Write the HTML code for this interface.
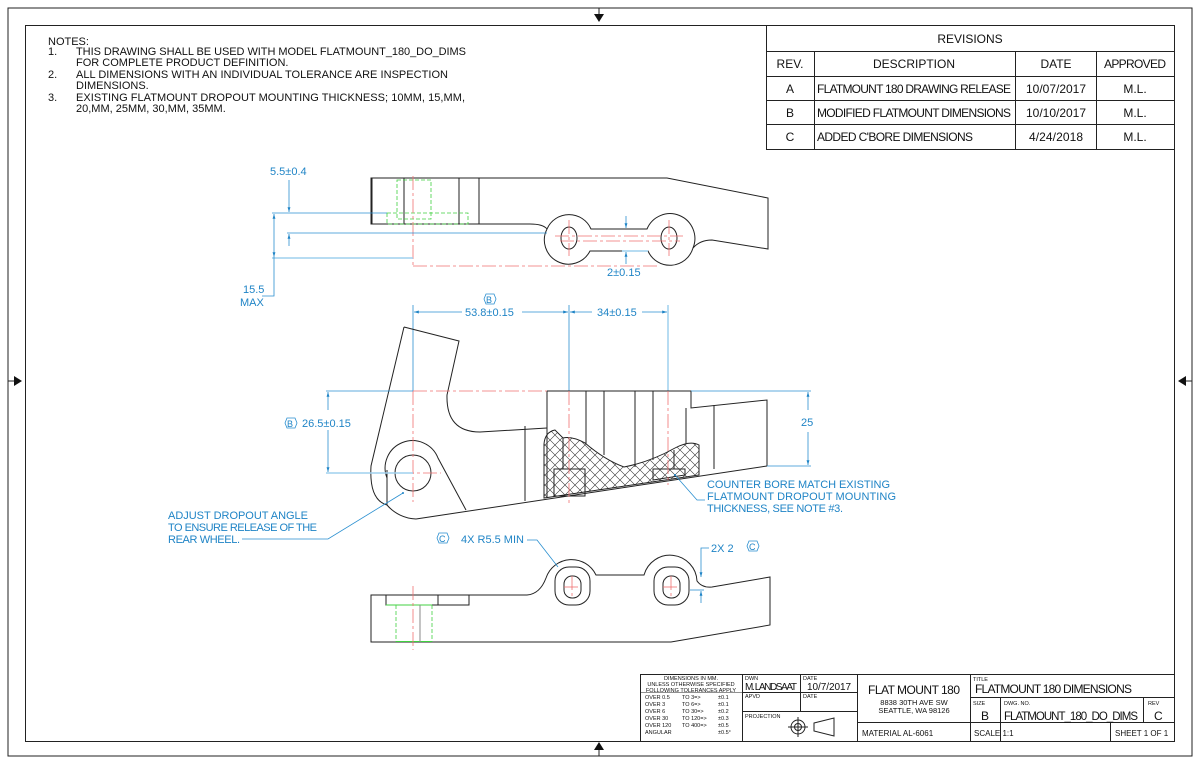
<!DOCTYPE html>
<html><head><meta charset="utf-8"><style>
html,body{margin:0;padding:0;background:#fff}
svg{display:block}
text{font-family:"Liberation Sans",sans-serif}
.k{stroke:#222;fill:none;stroke-width:1}
.b{stroke:#2a8fd0;fill:none;stroke-width:0.8}
.lb{stroke:#9fd0ee;fill:none;stroke-width:1.5}
.r{stroke:#f07070;fill:none;stroke-width:0.8;stroke-dasharray:14 3 3 3}
.g{stroke:#40d040;fill:none;stroke-width:0.8;stroke-dasharray:4 2}
.bt{fill:#1f84c6;font-size:11px}
.t{fill:#111;font-size:11px}
.s{fill:#111;font-size:5.5px}
</style></head><body>
<svg width="1200" height="764" viewBox="0 0 1200 764" xmlns="http://www.w3.org/2000/svg">
<defs>
<marker id="a" viewBox="0 0 10 10" refX="10" refY="5" markerWidth="8" markerHeight="6" orient="auto-start-reverse"><path d="M0,2 L10,5 L0,8z" fill="#1f84c6"/></marker>
<pattern id="h" width="10" height="10" patternUnits="userSpaceOnUse"><path d="M0,0 L10,10 M10,0 L0,10" stroke="#333" stroke-width="0.6"/></pattern>
</defs>
<rect x="8" y="8" width="1184" height="748" class="k" stroke-width="0.8"/>
<rect x="25.5" y="25.5" width="1149" height="716" class="k"/>
<path d="M594,14 L604,14 L599,22z M594,750 L604,750 L599,742z M14,376 L14,386 L22,381z M1186,376 L1186,386 L1178,381z" fill="#111"/>
<line x1="599" y1="8" x2="599" y2="14" class="k"/><line x1="599" y1="750" x2="599" y2="756" class="k"/>
<line x1="8" y1="381" x2="14" y2="381" class="k"/><line x1="1186" y1="381" x2="1192" y2="381" class="k"/>

<!-- notes -->
<g class="t">
<text x="48" y="45">NOTES:</text>
<text x="48" y="55">1.</text><text x="76" y="55" textLength="390">THIS DRAWING SHALL BE USED WITH MODEL FLATMOUNT_180_DO_DIMS</text>
<text x="76" y="66">FOR COMPLETE PRODUCT DEFINITION.</text>
<text x="48" y="78">2.</text><text x="76" y="78" textLength="372">ALL DIMENSIONS WITH AN INDIVIDUAL TOLERANCE ARE INSPECTION</text>
<text x="76" y="89">DIMENSIONS.</text>
<text x="48" y="101">3.</text><text x="76" y="101" textLength="389">EXISTING FLATMOUNT DROPOUT MOUNTING THICKNESS; 10MM, 15,MM,</text>
<text x="76" y="112">20,MM, 25MM, 30,MM, 35MM.</text>
</g>

<!-- revisions -->
<g class="k">
<rect x="766.5" y="25.5" width="408" height="124"/>
<line x1="766" y1="51.5" x2="1175" y2="51.5"/><line x1="766" y1="76.5" x2="1175" y2="76.5"/>
<line x1="766" y1="100.5" x2="1175" y2="100.5"/><line x1="766" y1="124.5" x2="1175" y2="124.5"/>
<line x1="814.5" y1="51" x2="814.5" y2="150"/><line x1="1015.5" y1="51" x2="1015.5" y2="150"/><line x1="1096.5" y1="51" x2="1096.5" y2="150"/>
</g>
<g class="t" text-anchor="middle" style="font-size:12px">
<text x="970" y="43">REVISIONS</text>
<text x="790" y="68">REV.</text><text x="914" y="68">DESCRIPTION</text><text x="1056" y="68">DATE</text><text x="1135" y="68" textLength="62">APPROVED</text>
<text x="790" y="93">A</text><text x="1056" y="93" textLength="60">10/07/2017</text><text x="1135" y="93">M.L.</text>
<text x="790" y="117">B</text><text x="1056" y="117" textLength="60">10/10/2017</text><text x="1135" y="117">M.L.</text>
<text x="790" y="141">C</text><text x="1056" y="141" textLength="54">4/24/2018</text><text x="1135" y="141">M.L.</text>
</g>
<g class="t" style="font-size:12px">
<text x="817" y="93" textLength="194">FLATMOUNT 180 DRAWING RELEASE</text>
<text x="817" y="117" textLength="194">MODIFIED FLATMOUNT DIMENSIONS</text>
<text x="817" y="141" textLength="156">ADDED C'BORE DIMENSIONS</text>
</g>

<!-- TOP VIEW -->
<path class="k" d="M371,178 L667,178 L768,198 L768,249 L712,240 Q700,240 693,248 A24,24 0 0 1 648,251 L590,251 A24,24 0 0 1 547,229 Q543,224 530,224 L371,224 Z"/>
<path class="k" d="M547,229 A24,24 0 0 1 591,229 L647,229 A24,24 0 0 1 693,248"/>
<line class="k" x1="404" y1="178" x2="404" y2="224"/><line class="k" x1="459" y1="178" x2="459" y2="224"/><line class="k" x1="479" y1="178" x2="479" y2="224"/>
<line class="k" x1="372" y1="178" x2="372" y2="224" stroke-width="2"/>
<rect class="g" x="397" y="180" width="34" height="39"/>
<rect class="g" x="387" y="213" width="81" height="11"/>
<ellipse class="k" cx="569" cy="238" rx="8" ry="11"/><ellipse class="k" cx="669" cy="238" rx="8" ry="11"/>
<line class="r" x1="413" y1="176" x2="413" y2="266"/>
<line class="r" x1="413" y1="266" x2="660" y2="266"/>
<line class="r" x1="555" y1="236" x2="683" y2="236"/><line class="r" x1="560" y1="241" x2="680" y2="241"/>
<line class="r" x1="569" y1="220" x2="569" y2="256"/><line class="r" x1="669" y1="220" x2="669" y2="256"/>
<line class="b" x1="272" y1="213" x2="387" y2="213"/>
<line class="b" x1="287" y1="233" x2="547" y2="233"/>
<line class="lb" x1="272" y1="258" x2="413" y2="258"/>
<line class="b" x1="289" y1="180" x2="289" y2="212" marker-end="url(#a)"/>
<line class="b" x1="289" y1="246" x2="289" y2="234" marker-end="url(#a)"/>
<line class="b" x1="274" y1="214" x2="274" y2="257" marker-start="url(#a)" marker-end="url(#a)"/>
<polyline class="b" points="274,257 274,296 262,296"/>
<text class="bt" x="270" y="175">5.5±0.4</text>
<text class="bt" x="243" y="293">15.5</text><text class="bt" x="240" y="306">MAX</text>
<line class="b" x1="626" y1="216" x2="626" y2="228" marker-end="url(#a)"/>
<line class="b" x1="626" y1="264" x2="626" y2="252" marker-end="url(#a)"/>
<line class="lb" x1="622" y1="251" x2="648" y2="251"/>
<text class="bt" x="607" y="276">2±0.15</text>

<!-- MIDDLE VIEW -->
<line class="b" x1="413" y1="305" x2="413" y2="391"/>
<line class="b" x1="569" y1="305" x2="569" y2="391"/>
<line class="lb" x1="668" y1="305" x2="668" y2="391"/>
<line class="b" x1="414" y1="312" x2="462" y2="312" marker-start="url(#a)"/>
<line class="b" x1="522" y1="312" x2="568" y2="312" marker-end="url(#a)"/>
<line class="b" x1="570" y1="312" x2="592" y2="312" marker-start="url(#a)"/>
<line class="b" x1="642" y1="312" x2="667" y2="312" marker-end="url(#a)"/>
<text class="bt" x="465" y="316">53.8±0.15</text>
<text class="bt" x="597" y="316">34±0.15</text>
<polygon class="b" points="484,299 486,294 494,294 496,299 494,304 486,304"/><text class="bt" x="486" y="303" style="font-size:9px">B</text>
<path class="k" d="M404,327 L459,341 L447,395 Q446,432 480,432 L547,428 M547,391 L691,391 L691,408 L767,400 L767,466 M416,519 L767,466 M404,327 L371,466 Q369,500 387,505 M387,505 A40,40 0 0 0 416,519 M387,505 L387,470"/>
<path class="k" d="M387,478 A27,27 0 0 1 438,458 L466,510"/>
<circle class="k" cx="413" cy="473" r="18"/>
<line class="k" x1="547" y1="391" x2="547" y2="497"/>
<line class="k" x1="525" y1="426" x2="525" y2="501"/>
<line class="k" x1="586" y1="391" x2="586" y2="444"/><line class="k" x1="604" y1="391" x2="604" y2="455"/>
<line class="k" x1="635" y1="391" x2="635" y2="467"/><line class="k" x1="653" y1="391" x2="653" y2="460"/>
<line class="k" x1="691" y1="391" x2="691" y2="408"/>
<line class="k" x1="714" y1="405" x2="714" y2="469"/>
<line class="k" x1="686" y1="408" x2="686" y2="444"/>
<path d="M544,444 Q545,432 555,430 L563,438 Q572,436 585,443 Q605,460 624,467 Q650,462 675,448 Q690,440 699,445 L699,475 L544,498 Z" fill="url(#h)" stroke="#222" stroke-width="1"/>
<line class="k" x1="563" y1="438" x2="563" y2="469"/>
<line class="k" x1="674" y1="450" x2="674" y2="469"/>
<rect class="k" x="554" y="469" width="31" height="27" fill="#fff"/>
<path class="k" d="M653,469 L685,469 L685,475 L653,480 Z" fill="#fff"/>
<line class="r" x1="413" y1="391" x2="547" y2="391"/>
<line class="r" x1="413" y1="391" x2="413" y2="502"/>
<line class="r" x1="400" y1="473" x2="441" y2="473"/>
<line class="r" x1="569" y1="391" x2="569" y2="505"/>
<line class="r" x1="668" y1="391" x2="668" y2="485"/>
<line class="b" x1="326" y1="391" x2="413" y2="391"/>
<line class="lb" x1="326" y1="473" x2="413" y2="473"/>
<line class="b" x1="328" y1="392" x2="328" y2="410" marker-start="url(#a)"/>
<line class="b" x1="328" y1="430" x2="328" y2="472" marker-end="url(#a)"/>
<polygon class="b" points="285,423 287,418 295,418 297,423 295,428 287,428"/><text class="bt" x="287" y="427" style="font-size:9px">B</text>
<text class="bt" x="302" y="427">26.5±0.15</text>
<line class="b" x1="691" y1="391" x2="811" y2="391"/>
<line class="b" x1="767" y1="466" x2="811" y2="466"/>
<line class="b" x1="808" y1="392" x2="808" y2="410" marker-start="url(#a)"/>
<line class="b" x1="808" y1="432" x2="808" y2="465" marker-end="url(#a)"/>
<text class="bt" x="801" y="426">25</text>
<polyline class="b" points="675,475 697,500 705,500"/>
<circle cx="675" cy="475" r="1" fill="#1f84c6"/>
<text class="bt" x="707" y="488" textLength="183">COUNTER BORE MATCH EXISTING</text>
<text class="bt" x="707" y="500" textLength="189">FLATMOUNT DROPOUT MOUNTING</text>
<text class="bt" x="707" y="512" textLength="136">THICKNESS, SEE NOTE #3.</text>
<text class="bt" x="168" y="519" textLength="140">ADJUST DROPOUT ANGLE</text>
<text class="bt" x="168" y="531" textLength="149">TO ENSURE RELEASE OF THE</text>
<text class="bt" x="168" y="543" textLength="72">REAR WHEEL.</text>
<polyline class="b" points="242,539 328,539 403,493"/>
<circle cx="403" cy="493" r="1" fill="#1f84c6"/>

<!-- BOTTOM VIEW -->
<path class="k" d="M371,595 L527,595 Q540,594 546,578 A27,27 0 0 1 596,575 L644,575 A27,27 0 0 1 697,581 Q702,588 712,587 L770,577 L770,625 L671,642 L371,642 Z"/>
<rect class="k" x="555" y="567" width="35" height="38" rx="14"/>
<rect class="k" x="564" y="576" width="17" height="22" rx="8"/>
<rect class="k" x="654" y="567" width="35" height="38" rx="14"/>
<rect class="k" x="663" y="576" width="17" height="22" rx="8"/>
<g class="r" stroke-dasharray="none" stroke-width="0.6">
<line x1="564" y1="587" x2="581" y2="587"/><line x1="572" y1="576" x2="572" y2="598"/>
<line x1="663" y1="587" x2="680" y2="587"/><line x1="671" y1="576" x2="671" y2="598"/>
</g>
<rect class="k" x="386" y="595" width="83" height="10"/>
<line class="k" x1="438" y1="595" x2="438" y2="605"/>
<line class="g" x1="396" y1="605" x2="396" y2="642"/><line class="g" x1="432" y1="605" x2="432" y2="642"/>
<line x1="396" y1="641.5" x2="432" y2="641.5" stroke="#40d040"/>
<line x1="386" y1="605" x2="432" y2="605" stroke="#40d040"/>
<line x1="420" y1="605" x2="420" y2="642" stroke="#888" stroke-width="1"/>
<line class="r" x1="413" y1="586" x2="413" y2="650"/>
<polygon class="b" points="437,538 439,533 447,533 449,538 447,543 439,543"/><text class="bt" x="439" y="542" style="font-size:9px">C</text>
<text class="bt" x="461" y="543">4X R5.5 MIN</text>
<polyline class="b" points="527,540 537,540 558,567"/>
<text class="bt" x="711" y="552">2X 2</text>
<polygon class="b" points="747,546 749,541 757,541 759,546 757,551 749,551"/><text class="bt" x="749" y="550" style="font-size:9px">C</text>
<polyline class="b" points="709,548 701,548 701,566"/>
<line class="b" x1="701" y1="566" x2="701" y2="577" marker-end="url(#a)"/>
<line class="b" x1="701" y1="603" x2="701" y2="591" marker-end="url(#a)"/>
<line class="b" x1="690" y1="590" x2="704" y2="590"/>

<!-- TITLE BLOCK -->
<g class="k">
<rect x="640.5" y="674.5" width="534" height="67"/>
<line x1="742.5" y1="674" x2="742.5" y2="742"/><line x1="800.5" y1="674" x2="800.5" y2="711"/>
<line x1="857.5" y1="674" x2="857.5" y2="742"/><line x1="970.5" y1="674" x2="970.5" y2="742"/>
<line x1="742" y1="692.5" x2="857" y2="692.5"/><line x1="742" y1="711.5" x2="857" y2="711.5"/>
<line x1="857" y1="722.5" x2="1175" y2="722.5"/><line x1="970" y1="697.5" x2="1175" y2="697.5"/>
<line x1="1000.5" y1="697" x2="1000.5" y2="742"/><line x1="1143.5" y1="697" x2="1143.5" y2="722"/>
<line x1="1110.5" y1="722" x2="1110.5" y2="742"/>
<line x1="640" y1="692.5" x2="742" y2="692.5" stroke-width="0.5"/>
</g>
<g class="s" text-anchor="middle"><text x="691" y="680">DIMENSIONS IN MM.</text><text x="691" y="686">UNLESS OTHERWISE SPECIFIED</text><text x="691" y="692">FOLLOWING TOLERANCES APPLY</text></g>
<g class="s">
<text x="645" y="699">OVER 0.5</text><text x="682" y="699">TO 3=&gt;</text><text x="718" y="699">±0.1</text>
<text x="645" y="706">OVER 3</text><text x="682" y="706">TO 6=&gt;</text><text x="718" y="706">±0.1</text>
<text x="645" y="713">OVER 6</text><text x="682" y="713">TO 30=&gt;</text><text x="718" y="713">±0.2</text>
<text x="645" y="720">OVER 30</text><text x="682" y="720">TO 120=&gt;</text><text x="718" y="720">±0.3</text>
<text x="645" y="727">OVER 120</text><text x="682" y="727">TO 400=&gt;</text><text x="718" y="727">±0.5</text>
<text x="645" y="734">ANGULAR</text><text x="718" y="734">±0.5°</text>
<text x="745" y="680">DWN</text><text x="803" y="680">DATE</text><text x="745" y="698">APVD</text><text x="803" y="698">DATE</text>
<text x="745" y="718">PROJECTION</text><text x="973" y="681">TITLE</text><text x="973" y="705">SIZE</text>
<text x="1004" y="705">DWG. NO.</text><text x="1148" y="705">REV</text>
</g>
<text class="t" x="745" y="690" style="font-size:10px" textLength="52">M. LANDSAAT</text>
<text class="t" x="807" y="690" style="font-size:10px" textLength="44">10/7/2017</text>
<circle class="k" cx="798" cy="727" r="7"/><circle class="k" cx="798" cy="727" r="3.5"/>
<line class="k" x1="788" y1="727" x2="808" y2="727" stroke-width="0.5"/><line class="k" x1="798" y1="717" x2="798" y2="737" stroke-width="0.5"/>
<path class="k" d="M814,723 L834,718 L834,736 L814,731 Z"/>
<text class="t" x="914" y="694" text-anchor="middle" style="font-size:12px" textLength="92">FLAT MOUNT 180</text>
<text class="t" x="914" y="705" text-anchor="middle" style="font-size:7.5px">8838 30TH AVE SW</text>
<text class="t" x="914" y="713" text-anchor="middle" style="font-size:7.5px">SEATTLE, WA 98126</text>
<text class="t" x="862" y="736" style="font-size:8px">MATERIAL  AL-6061</text>
<text class="t" x="975" y="693" style="font-size:12px" textLength="157">FLATMOUNT 180 DIMENSIONS</text>
<text class="t" x="981" y="720" style="font-size:12px">B</text>
<text class="t" x="1004" y="720" style="font-size:11.5px" textLength="134">FLATMOUNT_180_DO_DIMS</text>
<text class="t" x="1154" y="720" style="font-size:12px">C</text>
<text class="t" x="974" y="736" style="font-size:8px">SCALE 1:1</text>
<text class="t" x="1115" y="736" style="font-size:8px">SHEET 1 OF 1</text>
</svg>
</body></html>
